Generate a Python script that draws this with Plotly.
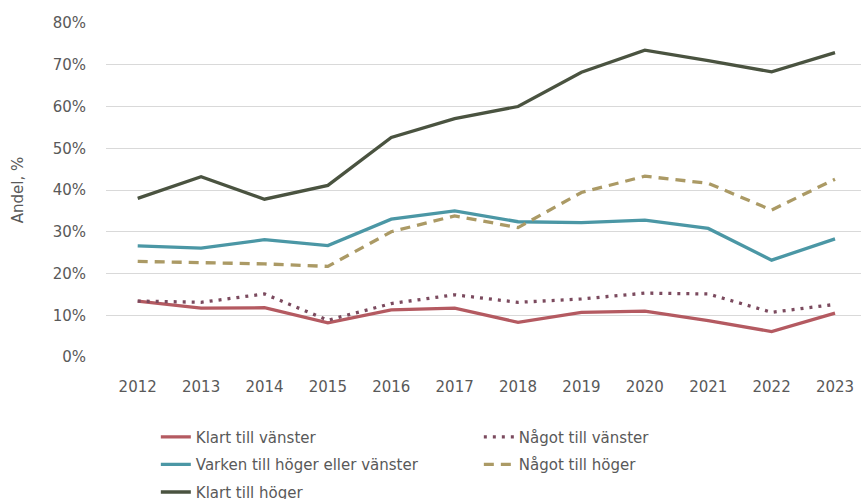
import plotly.graph_objects as go

years = [2012, 2013, 2014, 2015, 2016, 2017, 2018, 2019, 2020, 2021, 2022, 2023]

klart_vanster = [13.4, 11.7, 11.8, 8.2, 11.3, 11.7, 8.3, 10.7, 11.0, 8.7, 6.1, 10.5]
nagot_vanster = [13.4, 13.1, 15.1, 8.8, 12.8, 14.9, 13.1, 13.9, 15.3, 15.1, 10.7, 12.6]
varken = [26.6, 26.1, 28.1, 26.7, 33.0, 35.0, 32.4, 32.2, 32.8, 30.8, 23.2, 28.3]
nagot_hoger = [22.9, 22.6, 22.3, 21.7, 30.0, 33.8, 31.0, 39.4, 43.3, 41.6, 35.2, 42.6]
klart_hoger = [38.0, 43.2, 37.8, 41.1, 52.6, 57.1, 60.0, 68.2, 73.5, 71.0, 68.3, 72.9]

series = [
    ("Klart till vänster", klart_vanster, "#B45A61", "solid", "legend"),
    ("Något till vänster", nagot_vanster, "#7B4A5E", "3px,6px", "legend"),
    ("Varken till höger eller vänster", varken, "#4B97A5", "solid", "legend2"),
    ("Något till höger", nagot_hoger, "#AB9A65", "10px,7px", "legend2"),
    ("Klart till höger", klart_hoger, "#4A5340", "solid", "legend3"),
]

FONT = "DejaVu Sans"
GREY = "#595959"

fig = go.Figure()
for name, vals, color, dash, leg in series:
    fig.add_trace(go.Scatter(
        x=years, y=[v / 100 for v in vals], name=name, mode="lines",
        line=dict(color=color, width=3.3, dash=dash), legend=leg,
    ))

def legend_row(yc):
    return dict(
        orientation="h", x=0.066, y=yc, xanchor="left", yanchor="middle",
        entrywidth=278, entrywidthmode="pixels",
        font=dict(family=FONT, size=15, color=GREY),
        bgcolor="rgba(0,0,0,0)",
    )

fig.update_layout(
    width=861, height=499,
    margin=dict(l=106, r=0, t=23, b=142, autoexpand=False),
    paper_bgcolor="white", plot_bgcolor="white",
    font=dict(family=FONT, size=15, color=GREY),
    showlegend=True,
    legend=legend_row(-0.240),
    legend2=legend_row(-0.322),
    legend3=legend_row(-0.405),
    xaxis=dict(
        range=[2011.5, 2023.41], tickmode="array", tickvals=years,
        ticktext=[str(y) for y in years], automargin=False,
        showgrid=False, zeroline=False, showline=False,
        ticklabelstandoff=19,
        tickfont=dict(family=FONT, size=15, color=GREY),
    ),
    yaxis=dict(
        range=[0, 0.8], tickvals=[0, 0.1, 0.2, 0.3, 0.4, 0.5, 0.6, 0.7, 0.8],
        tickformat=".0%", showgrid=True, gridcolor="#D9D9D9", gridwidth=1.3,
        zeroline=False, showline=False, ticklabelstandoff=19, automargin=False,
        tickfont=dict(family=FONT, size=15, color=GREY),
        title=dict(text="Andel, %", font=dict(family=FONT, size=15, color=GREY), standoff=25),
    ),
)

fig.write_html("out.html", config={"displayModeBar": False},
               post_script="document.body.style.margin='0px';")
